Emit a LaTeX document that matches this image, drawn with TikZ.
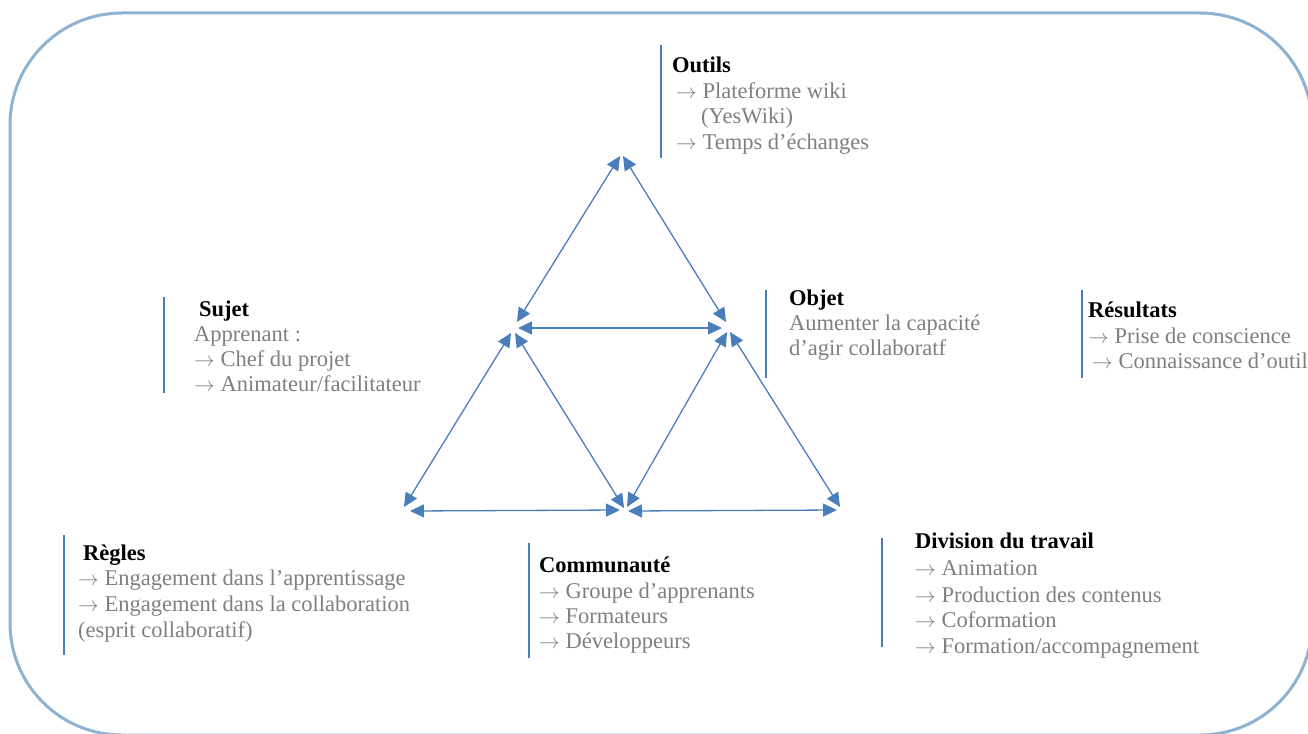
\documentclass[tikz,border=0pt]{standalone}
\usepackage{fontspec}
\setmainfont{Liberation Serif}
\usetikzlibrary{arrows.meta}
\definecolor{txtgray}{RGB}{127,127,127}
\definecolor{barblue}{RGB}{74,126,187}
\definecolor{lineblue}{RGB}{74,126,187}
\definecolor{frameblue}{RGB}{141,178,210}
\newcommand\mysize{\fontsize{22.5}{25}\selectfont}
\tikzset{
  ttl/.style={anchor=base west, inner sep=0pt, text=black, font=\mysize\bfseries},
  itm/.style={anchor=base west, inner sep=0pt, text=txtgray, font=\mysize},
  barline/.style={draw=barblue, line width=2pt},
  conn/.style={draw=lineblue, line width=1.3pt, >={Triangle[length=14pt,width=13pt]}, <->},
}
\begin{document}
\begin{tikzpicture}[x=1pt,y=-1pt]
\useasboundingbox (0,0) rectangle (1308,733);
\clip (0,0) rectangle (1308,733);
% frame
\draw[draw=frameblue, line width=3pt, rounded corners=112pt] (10,13) rectangle (1312,735);

% arrow end coordinates
\coordinate (a1) at (620,156); \coordinate (a2) at (517,322);
\coordinate (b1) at (623,156); \coordinate (b2) at (726,322);
\coordinate (c1) at (518,328); \coordinate (c2) at (722,328);
\coordinate (d1) at (511,333); \coordinate (d2) at (404,507);
\coordinate (e1) at (515,333); \coordinate (e2) at (624,508);
\coordinate (f1) at (727,332); \coordinate (f2) at (627,507);
\coordinate (g1) at (730,332); \coordinate (g2) at (840,507);
\coordinate (h1) at (410,511); \coordinate (h2) at (620,510);
\coordinate (i1) at (628,511); \coordinate (i2) at (837,510);

\draw[conn] (a1) -- (a2);
\draw[conn] (b1) -- (b2);
\draw[conn] (c1) -- (c2);
\draw[conn] (d1) -- (d2);
\draw[conn] (e1) -- (e2);
\draw[conn] (f1) -- (f2);
\draw[conn] (g1) -- (g2);
\draw[conn] (h1) -- (h2);
\draw[conn] (i1) -- (i2);

% Outils
\draw[barline] (661,45) -- (661,158);
\node[ttl] (outT) at (672,73) {Outils};
\node[itm] (out1) at (676,99) {$\rightarrow$ Plateforme wiki};
\node[itm] (out2) at (701,124) {(YesWiki)};
\node[itm] (out3) at (676,149) {$\rightarrow$ Temps d’échanges};

% Sujet
\draw[barline] (164,297) -- (164,393);
\node[ttl] (sujT) at (199,316) {Sujet};
\node[itm] (suj1) at (194,341) {Apprenant :};
\node[itm] (suj2) at (194,366) {$\rightarrow$ Chef du projet};
\node[itm] (suj3) at (194,391) {$\rightarrow$ Animateur/facilitateur};

% Objet
\draw[barline] (766,290) -- (766,378);
\node[ttl] (objT) at (789,305) {Objet};
\node[itm] (obj1) at (789,330) {Aumenter la capacité};
\node[itm] (obj2) at (789,355) {d’agir collaboratf};

% Resultats
\draw[barline] (1082,290) -- (1082,378);
\node[ttl] (resT) at (1088,317) {Résultats};
\node[itm] (res1) at (1088,343) {$\rightarrow$ Prise de conscience};
\node[itm] (res2) at (1092,368) {$\rightarrow$ Connaissance d’outils};

% Regles
\draw[barline] (64,535) -- (64,655);
\node[ttl] (regT) at (83,560) {Règles};
\node[itm] (reg1) at (78,585) {$\rightarrow$ Engagement dans l’apprentissage};
\node[itm] (reg2) at (78,611) {$\rightarrow$ Engagement dans la collaboration};
\node[itm] (reg3) at (78,637) {(esprit collaboratif)};

% Communaute
\draw[barline] (529,543) -- (529,658);
\node[ttl] (comT) at (539,572) {Communauté};
\node[itm] (com1) at (539,598) {$\rightarrow$ Groupe d’apprenants};
\node[itm] (com2) at (539,623) {$\rightarrow$ Formateurs};
\node[itm] (com3) at (539,648) {$\rightarrow$ Développeurs};

% Division du travail
\draw[barline] (882,538) -- (882,647);
\node[ttl] (divT) at (915,548) {Division du travail};
\node[itm] (div1) at (915,575) {$\rightarrow$ Animation};
\node[itm] (div2) at (915,602) {$\rightarrow$ Production des contenus};
\node[itm] (div3) at (915,627) {$\rightarrow$ Coformation};
\node[itm] (div4) at (915,653) {$\rightarrow$ Formation/accompagnement};
\end{tikzpicture}
\end{document}
